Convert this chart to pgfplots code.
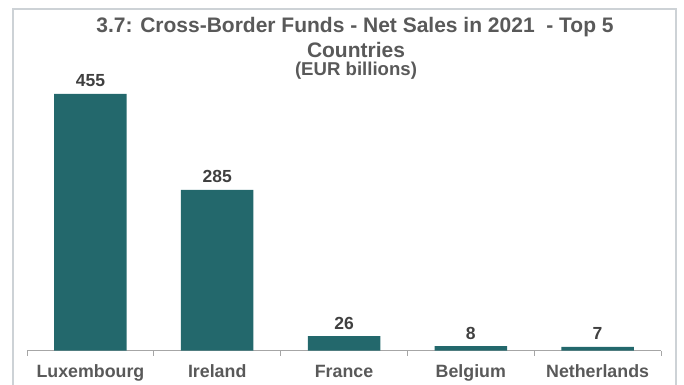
\documentclass[border=0pt]{standalone}
\usepackage{pgfplots}
\pgfplotsset{compat=1.18}
\usepackage{fontspec}
\setmainfont{Liberation Sans}
\definecolor{barteal}{HTML}{23686C}
\definecolor{titlegray}{HTML}{595959}
\definecolor{labelgray}{HTML}{404040}
\definecolor{axisgray}{HTML}{A6A6A6}
\definecolor{framegray}{HTML}{CDD2D6}
\begin{document}
\begin{tikzpicture}
\useasboundingbox (0,0) rectangle (684bp,385bp);
\draw[framegray, line width=1.2bp] (13bp,-5bp) -- (13bp,376bp) -- (676bp,376bp) -- (676bp,-5bp);
\begin{axis}[
  at={(27bp,34.3bp)}, anchor=south west,
  scale only axis, width=634bp, height=293.4bp,
  xmin=-0.5, xmax=4.5, ymin=0, ymax=520,
  axis x line*=bottom, axis y line=none,
  x axis line style={axisgray, line width=1bp},
  xtick={0,1,2,3,4},
  xticklabels={Luxembourg,Ireland,France,Belgium,Netherlands},
  major tick length=0pt,
  minor xtick={-0.5,0.5,1.5,2.5,3.5,4.5},
  minor tick length=5bp,
  minor x tick style={axisgray, line width=1bp},
  xticklabel style={font=\fontsize{17.8bp}{20bp}\selectfont\bfseries, text=titlegray, anchor=base, yshift=-27bp},
  ybar, bar width=72.5bp,
  /pgf/number format/assume math mode=true,
  nodes near coords,
  every node near coord/.append style={font=\fontsize{17.5bp}{20bp}\selectfont\bfseries, text=labelgray, anchor=base, yshift=7bp},
  clip=false,
]
\addplot[fill=barteal, draw=none] coordinates {(0,455) (1,285) (2,26) (3,8) (4,7)};
\end{axis}
\node[anchor=base, text=titlegray, font=\fontsize{21bp}{25bp}\selectfont\bfseries, inner sep=0pt] at (355bp,352bp) {3.7: Cross-Border Funds - Net Sales in 2021 \ - Top 5};
\node[anchor=base, text=titlegray, font=\fontsize{21bp}{25bp}\selectfont\bfseries, inner sep=0pt] at (356bp,327bp) {Countries};
\node[anchor=base, text=titlegray, font=\fontsize{18.6bp}{22bp}\selectfont\bfseries, inner sep=0pt] at (356bp,309bp) {(EUR billions)};
\end{tikzpicture}
\end{document}
